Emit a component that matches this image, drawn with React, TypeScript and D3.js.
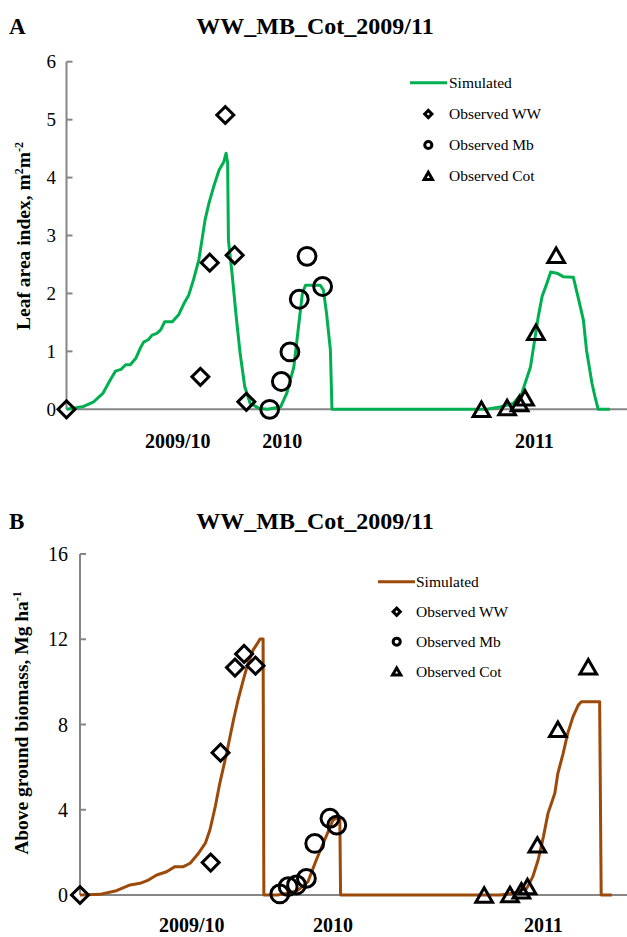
import React from "react";
import * as d3 from "d3";

const FONT = '"Liberation Serif", "Times New Roman", Times, serif';
const W = 627;
const H = 937;

const TITLE = "WW_MB_Cot_2009/11";
const SEASONS = ["2009/10", "2010", "2011"];
const LEGEND = ["Simulated", "Observed WW", "Observed Mb", "Observed Cot"];

type Pt = [number, number];

// x = days from start of simulation, y = LAI (m2 m-2)
const laiSimulated: Pt[] = [
  [0, 0], [22, 0.05], [35, 0.13], [47, 0.28], [56, 0.5], [63, 0.66], [70, 0.69], [76, 0.77],
  [82, 0.77], [89, 0.88], [95, 1.06], [99, 1.16], [105, 1.2], [110, 1.28], [116, 1.31],
  [121, 1.37], [126, 1.51], [136, 1.51], [144, 1.63], [151, 1.83], [157, 1.97], [163, 2.23],
  [170, 2.58], [174, 2.92], [178, 3.27], [183, 3.56], [189, 3.84], [196, 4.13], [202, 4.27],
  [205, 4.42], [207, 4.25], [208, 2.92], [213, 2.3], [218, 1.6], [223, 0.97], [229, 0.39],
  [236, 0.1], [247, 0.02], [258, 0], [275, 0.04], [283, 0.28], [292, 0.73], [298, 1.42],
  [303, 2.0], [307, 2.14], [326, 2.14], [330, 2.06], [334, 1.66], [339, 1.02], [341, 0],
  [540, 0], [557, 0.04], [574, 0.1], [585, 0.28], [596, 0.73], [602, 1.25], [606, 1.6],
  [611, 1.95], [617, 2.17], [622, 2.37], [630, 2.35], [638, 2.29], [651, 2.28], [658, 1.89],
  [664, 1.54], [668, 1.02], [675, 0.45], [679, 0.21], [683, 0], [698, 0],
];
const laiObsWW: Pt[] = [[0, 0], [172, 0.56], [184, 2.53], [204, 5.08], [216, 2.66], [231, 0.13]];
const laiObsMb: Pt[] = [[261, 0], [276, 0.48], [287, 0.99], [299, 1.9], [309, 2.64], [329, 2.12]];
const laiObsCot: Pt[] = [[533, 0], [566, 0.03], [582, 0.1], [589, 0.2], [603, 1.33], [629, 2.66]];
const laiSeasonDays = [143, 277, 601];
const laiTicks = [0, 1, 2, 3, 4, 5, 6];

// x = days, y = above ground biomass (Mg ha-1)
const bioSimulated: Pt[] = [
  [0, 0], [26, 0.03], [48, 0.2], [66, 0.47], [79, 0.55], [90, 0.7], [101, 0.94], [114, 1.09],
  [125, 1.33], [136, 1.33], [145, 1.49], [156, 1.96], [165, 2.43], [171, 3.05], [178, 4.14],
  [184, 5.24], [193, 6.65], [202, 8.21], [208, 9.15], [215, 10.09], [221, 10.87], [228, 11.5],
  [235, 11.89], [237, 12.01], [241, 12.01], [242, 0], [260, 0], [276, 0.1], [287, 0.23],
  [300, 0.62], [311, 1.64], [322, 2.58], [333, 3.52], [339, 3.62], [342, 3.62], [343, 0],
  [553, 0], [570, 0.08], [588, 0.31], [596, 0.86], [603, 1.64], [610, 2.74], [616, 3.83],
  [625, 4.77], [629, 5.71], [636, 6.65], [642, 7.59], [649, 8.37], [656, 8.92], [660, 9.07],
  [684, 9.07], [686, 0], [700, 0],
];
const bioObsWW: Pt[] = [[0, 0], [172, 1.52], [185, 6.68], [204, 10.67], [216, 11.31], [231, 10.76]];
const bioObsMb: Pt[] = [[263, 0.05], [274, 0.39], [285, 0.47], [298, 0.78], [309, 2.42], [329, 3.6], [338, 3.28]];
const bioObsCot: Pt[] = [[532, 0], [566, 0.02], [581, 0.2], [589, 0.4], [602, 2.35], [629, 7.78], [669, 10.71]];
const bioSeasonDays = [147, 333, 610];
const bioTicks = [0, 4, 8, 12, 16];

const AXIS = "#868686";
const DAY_MAX = 720;

const bigDiamond = d3.symbol(d3.symbolSquare, 144)()!;
const bigCircle = d3.symbol(d3.symbolCircle, 250)()!;
const bigTriangle = d3.symbol(d3.symbolTriangle, 120)()!;
const smDiamond = d3.symbol(d3.symbolSquare, 26)()!;
const smCircle = d3.symbol(d3.symbolCircle, 40)()!;
const smTriangle = d3.symbol(d3.symbolTriangle, 30)()!;

type PanelProps = {
  letter: string;
  titleY: number;
  xLeft: number;
  yBottom: number;
  yTop: number;
  yMax: number;
  ticks: number[];
  tickX: number;
  tickFont: number;
  sim: Pt[];
  ww: Pt[];
  mb: Pt[];
  cot: Pt[];
  seasonDays: number[];
  seasonY: number;
  color: string;
  yTitle: React.ReactNode;
  yTitleX: number;
  yTitleY: number;
  legend: { x1: number; x2: number; mx: number; tx: number; rows: number[] };
};

const Panel = (p: PanelProps) => {
  const x = d3.scaleLinear().domain([0, DAY_MAX]).range([p.xLeft, W]);
  const y = d3.scaleLinear().domain([0, p.yMax]).range([p.yBottom, p.yTop]);
  const line = d3.line<Pt>().x((d) => x(d[0])).y((d) => y(d[1]));
  const mark = { fill: "none", stroke: "#000", strokeWidth: 3 };

  return (
    <g fontFamily={FONT}>
      <text x={9} y={p.titleY} fontSize={23} fontWeight="bold">{p.letter}</text>
      <text x={315} y={p.titleY} fontSize={24} fontWeight="bold" textAnchor="middle">{TITLE}</text>

      {/* axes */}
      <line x1={p.xLeft} x2={W} y1={y(0)} y2={y(0)} stroke={AXIS} strokeWidth={2} />
      <line x1={p.xLeft} x2={p.xLeft} y1={y(0)} y2={y(p.yMax)} stroke={AXIS} strokeWidth={2} />
      {p.ticks.map((t) => (
        <g key={t}>
          {t > 0 && <line x1={p.xLeft} x2={p.xLeft + 6} y1={y(t)} y2={y(t)} stroke={AXIS} strokeWidth={2} />}
          <text x={p.tickX} y={y(t)} dy="0.35em" textAnchor="end" fontSize={p.tickFont}>{t}</text>
        </g>
      ))}
      {SEASONS.map((s, i) => (
        <text key={s} x={x(p.seasonDays[i])} y={p.seasonY} fontSize={20} fontWeight="bold" textAnchor="middle">{s}</text>
      ))}
      <text transform={`translate(${p.yTitleX},${p.yTitleY}) rotate(-90)`} fontSize={19.5} fontWeight="bold" textAnchor="middle" dy="0.35em">
        {p.yTitle}
      </text>

      {/* data */}
      <path d={line(p.sim)!} fill="none" stroke={p.color} strokeWidth={3} strokeLinejoin="round" />
      {p.ww.map((d, i) => (
        <path key={"w" + i} d={bigDiamond} transform={`translate(${x(d[0])},${y(d[1])}) rotate(45)`} {...mark} />
      ))}
      {p.mb.map((d, i) => (
        <path key={"m" + i} d={bigCircle} transform={`translate(${x(d[0])},${y(d[1])})`} {...mark} />
      ))}
      {p.cot.map((d, i) => (
        <path key={"c" + i} d={bigTriangle} transform={`translate(${x(d[0])},${y(d[1]) + 2.4})`} {...mark} />
      ))}

      {/* legend */}
      <line x1={p.legend.x1} x2={p.legend.x2} y1={p.legend.rows[0]} y2={p.legend.rows[0]} stroke={p.color} strokeWidth={3} />
      <path d={smDiamond} transform={`translate(${p.legend.mx},${p.legend.rows[1]}) rotate(45)`} {...mark} />
      <path d={smCircle} transform={`translate(${p.legend.mx},${p.legend.rows[2]})`} {...mark} />
      <path d={smTriangle} transform={`translate(${p.legend.mx},${p.legend.rows[3] + 1})`} {...mark} />
      {LEGEND.map((l, i) => (
        <text key={l} x={p.legend.tx} y={p.legend.rows[i]} dy="0.33em" fontSize={15.5}>{l}</text>
      ))}
    </g>
  );
};

const App = () => (
  <svg width={W} height={H} style={{ position: "absolute", left: 0, top: 0, background: "#fff" }}>
    <Panel
      letter="A"
      titleY={34}
      xLeft={66.5}
      yBottom={409.3}
      yTop={61.7}
      yMax={6}
      ticks={laiTicks}
      tickX={56}
      tickFont={19}
      sim={laiSimulated}
      ww={laiObsWW}
      mb={laiObsMb}
      cot={laiObsCot}
      seasonDays={laiSeasonDays}
      seasonY={448}
      color="#00b050"
      yTitleX={23}
      yTitleY={236}
      yTitle={
        <>
          Leaf area index, m<tspan dy={-7} fontSize={12}>2</tspan>
          <tspan dy={7}>m</tspan><tspan dy={-7} fontSize={12}>-2</tspan>
        </>
      }
      legend={{ x1: 410, x2: 447, mx: 428.3, tx: 449, rows: [82.7, 114, 145, 176] }}
    />
    <Panel
      letter="B"
      titleY={529}
      xLeft={80}
      yBottom={895}
      yTop={554}
      yMax={16}
      ticks={bioTicks}
      tickX={68}
      tickFont={20}
      sim={bioSimulated}
      ww={bioObsWW}
      mb={bioObsMb}
      cot={bioObsCot}
      seasonDays={bioSeasonDays}
      seasonY={932}
      color="#9c4a0a"
      yTitleX={21}
      yTitleY={723}
      yTitle={
        <>
          Above ground biomass, Mg ha<tspan dy={-7} fontSize={12}>-1</tspan>
        </>
      }
      legend={{ x1: 378, x2: 415, mx: 396.7, tx: 416, rows: [581.7, 611.7, 641.7, 671.7] }}
    />
  </svg>
);

export default App;
